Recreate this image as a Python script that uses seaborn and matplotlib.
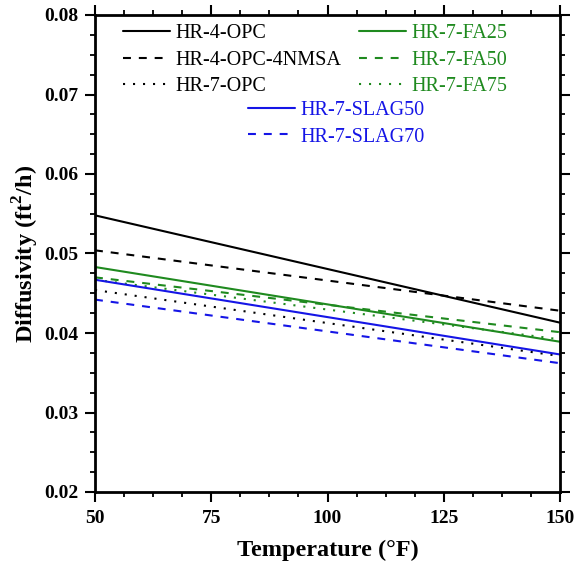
import matplotlib
matplotlib.use("Agg")
import matplotlib.pyplot as plt
from matplotlib.ticker import MultipleLocator
import seaborn as sns
import pandas as pd

sns.set_style("ticks")
plt.rcParams['font.family'] = ['Liberation Serif', 'DejaVu Serif']
plt.rcParams['mathtext.fontset'] = 'custom'
plt.rcParams['mathtext.rm'] = 'Liberation Serif'
plt.rcParams['mathtext.bf'] = 'Liberation Serif:bold'
for k in ['text.color', 'axes.labelcolor', 'xtick.color', 'ytick.color']:
    plt.rcParams[k] = 'black'

temps = [50, 150]
hr4_opc = [0.0548, 0.0413]
hr4_opc_4nmsa = [0.0504, 0.0428]
hr7_opc = [0.0454, 0.0371]
hr7_fa25 = [0.0483, 0.0389]
hr7_fa50 = [0.0470, 0.0401]
hr7_fa75 = [0.0467, 0.0392]
hr7_slag50 = [0.0467, 0.0373]
hr7_slag70 = [0.0442, 0.0362]

black = "#000000"
green = "#1f8a1f"
blue = "#1515e6"

dashed = (0, (3.8, 3.8))
dotted = (0, (1, 3.8))

series = [
    ("HR-4-OPC", hr4_opc, black, "-"),
    ("HR-4-OPC-4NMSA", hr4_opc_4nmsa, black, dashed),
    ("HR-7-OPC", hr7_opc, black, dotted),
    ("HR-7-FA25", hr7_fa25, green, "-"),
    ("HR-7-FA50", hr7_fa50, green, dashed),
    ("HR-7-FA75", hr7_fa75, green, dotted),
    ("HR-7-SLAG50", hr7_slag50, blue, "-"),
    ("HR-7-SLAG70", hr7_slag70, blue, dashed),
]

fig = plt.figure(figsize=(5.77, 5.71), dpi=100)
ax = fig.add_axes([95 / 577, 79 / 571, 465 / 577, 477 / 571])

handles = []
for name, vals, col, ls in series:
    df = pd.DataFrame({"T": temps, "D": vals})
    sns.lineplot(data=df, x="T", y="D", ax=ax, color=col, linewidth=1.5)
    line = ax.get_lines()[-1]
    line.set_linestyle(ls)
    line.set_label(name)
    handles.append(line)

ax.set_xlim(50, 150)
ax.set_ylim(0.02, 0.08)
ax.xaxis.set_major_locator(MultipleLocator(25))
ax.xaxis.set_minor_locator(MultipleLocator(6.25))
ax.yaxis.set_major_locator(MultipleLocator(0.01))
ax.yaxis.set_minor_locator(MultipleLocator(0.0025))
ax.set_xticks([50, 75, 100, 125, 150])
ax.set_xticklabels(["50", "75", "100", "125", "150"])

for s in ax.spines.values():
    s.set_visible(True)
    s.set_linewidth(2.0)
    s.set_color("black")

ax.tick_params(which="major", direction="out", length=7, width=1.5,
               top=True, right=True, labelsize=14, pad=5)
ax.tick_params(which="minor", direction="out", length=3.5, width=1.3,
               top=True, right=True)
ax.tick_params(axis="x", which="major", pad=6)
for lab in ax.get_xticklabels() + ax.get_yticklabels():
    lab.set_fontweight("bold")

ax.set_xlabel("Temperature (°F)", fontsize=17.5, fontweight="bold", labelpad=9)
ax.set_ylabel("Diffusivity (ft$^\\mathbf{2}$/h)", fontsize=17.5, fontweight="bold", labelpad=2)

common = dict(frameon=False, fontsize=14.5, labelcolor="linecolor",
              handlelength=2.34, handletextpad=0.25, labelspacing=0.37,
              borderpad=0, borderaxespad=0, loc="upper left")
leg1 = ax.legend(handles=handles[:6], ncol=2, bbox_to_anchor=(0.060, 0.981),
                 columnspacing=0.9, **common)
ax.add_artist(leg1)
leg2 = ax.legend(handles=handles[6:], ncol=1, bbox_to_anchor=(0.329, 0.820),
                 **common)

fig.savefig("out.png", dpi=100)
